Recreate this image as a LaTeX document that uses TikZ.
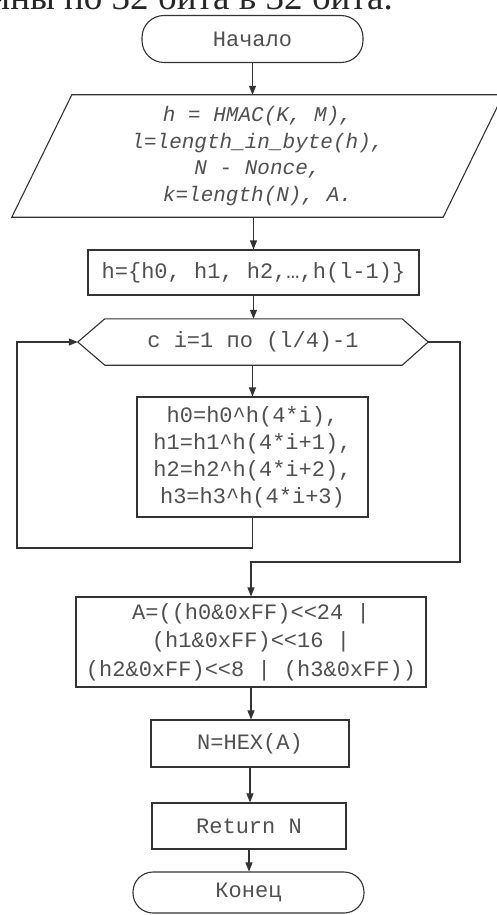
\documentclass[tikz,border=0pt]{standalone}
\usepackage{fontspec}
\setmainfont{Liberation Serif}
\setmonofont{Liberation Mono}
\usetikzlibrary{arrows.meta,calc}
\definecolor{ln}{HTML}{333333}
\definecolor{tx}{HTML}{505050}
\tikzset{
  base/.style={draw=ln, line width=1.1pt, text=tx, align=center, inner sep=0pt,
    font=\ttfamily\fontsize{22}{28}\selectfont},
  term/.style={base, rounded corners=22pt},
  box/.style={base, rectangle},
  shapeonly/.style={inner sep=0pt, text=tx, align=center},
  arr/.style={draw=ln, line width=1.1pt, -{Triangle[length=9pt,width=7pt]}},
  ln/.style={draw=ln, line width=1.1pt},
}
\begin{document}
\begin{tikzpicture}[x=1pt,y=-1pt]
\useasboundingbox (0,0) rectangle (497,915);
\clip (0,0) rectangle (497,915);
\fill[white] (0,0) rectangle (497,915);

\node[anchor=base east, inner sep=0pt, font=\fontsize{37}{40}\selectfont, text=black!85] (top) at (393,10) {ины по 32 бита в 32 бита.};

\node[term, minimum width=221pt, minimum height=47pt] (start) at (252.5,39) {Начало};

\node[shapeonly, minimum width=431pt, minimum height=122pt,
  font=\ttfamily\itshape\fontsize{21}{26.7}\selectfont] (inp) at (257.5,156)
  {h = HMAC(K, M),\\l=length\_in\_byte(h),\\N - Nonce,\\k=length(N), A.};
\draw[ln] ($(inp.north west)+(30,0)$) -- ($(inp.north east)+(30,0)$)
  -- ($(inp.south east)+(-30,0)$) -- ($(inp.south west)+(-30,0)$) -- cycle;

\node[box, minimum width=331pt, minimum height=45pt] (hbox) at (253.5,272.5)
  {h=\{h0, h1, h2,…,h(l-1)\}};

\node[shapeonly, minimum width=350pt, minimum height=46pt,
  font=\ttfamily\fontsize{22}{28}\selectfont] (loop) at (253,342) {с i=1 по (l/4)-1};
\draw[ln] (loop.west) -- ($(loop.north west)+(27,0)$) -- ($(loop.north east)+(-26,0)$)
  -- (loop.east) -- ($(loop.south east)+(-26,0)$) -- ($(loop.south west)+(27,0)$) -- cycle;

\node[box, minimum width=231pt, minimum height=120pt, font=\ttfamily\fontsize{22}{27}\selectfont] (body) at (252.5,457)
  {h0=h0\^{}h(4*i),\\h1=h1\^{}h(4*i+1),\\h2=h2\^{}h(4*i+2),\\h3=h3\^{}h(4*i+3)};

\node[box, minimum width=350pt, minimum height=90pt, font=\ttfamily\fontsize{22}{28.5}\selectfont] (abox) at (251,642)
  {A=((h0\&0xFF)<<24 |\\(h1\&0xFF)<<16 |\\(h2\&0xFF)<<8 | (h3\&0xFF))};

\node[box, minimum width=198pt, minimum height=47pt] (hex) at (250,743.5) {N=HEX(A)};
\node[box, minimum width=194pt, minimum height=46pt] (ret) at (249,826) {Return N};
\node[term, minimum width=231pt, minimum height=41pt, rounded corners=20pt] (end) at (248.5,892.5) {Конец};

\coordinate (lb) at (17,548);
\coordinate (rb) at (460,562);

\draw[arr] (start.south) -- (start.south |- inp.north);
\draw[arr] (hbox.north |- inp.south) -- (hbox.north);
\draw[arr] (hbox.south) -- (hbox.south |- loop.north);
\draw[arr] (body.north |- loop.south) -- (body.north);
\draw[arr] (body.south) |- (lb) |- (loop.west);
\draw[arr] (loop.east) -| (rb) -| (abox.north);
\draw[arr] (abox.south) -- (abox.south |- hex.north);
\draw[arr] (hex.south) -- (hex.south |- ret.north);
\draw[arr] (ret.south) -- (ret.south |- end.north);
\end{tikzpicture}
\end{document}
